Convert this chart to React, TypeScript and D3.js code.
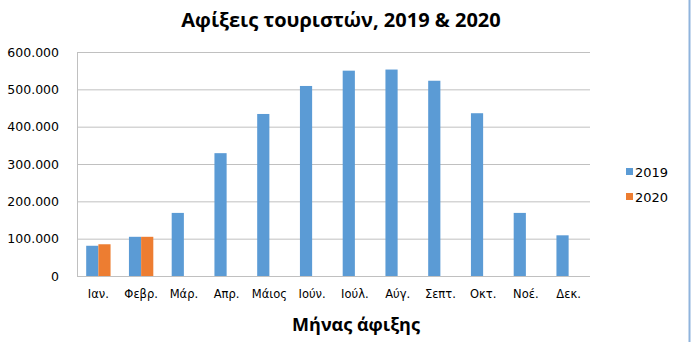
import React from "react";
import * as d3 from "d3";

const months = ["Ιαν.", "Φεβρ.", "Μάρ.", "Απρ.", "Μάιος", "Ιούν.", "Ιούλ.", "Αύγ.", "Σεπτ.", "Οκτ.", "Νοέ.", "Δεκ."];
const arrivals2019 = [81000, 105000, 169000, 329000, 434000, 509000, 550000, 553000, 523000, 436000, 169000, 109000];
const arrivals2020: (number | null)[] = [85000, 105000, null, null, null, null, null, null, null, null, null, null];
const seriesNames = ["2019", "2020"];
const yTicks = [0, 100000, 200000, 300000, 400000, 500000, 600000];

const colors = ["#5b9bd5", "#ed7d31"];
const W = 691;
const H = 342;
const plot = { left: 77, right: 590, top: 52, bottom: 276 };
const font = "'DejaVu Sans', Verdana, sans-serif";
const titleFont = "'Open Sans', 'DejaVu Sans', sans-serif";

const fmt = (v: number) => (v === 0 ? "0" : d3.format(",")(v).replace(/,/g, "."));

export default function App() {
  const x = d3.scaleBand<string>().domain(months).range([plot.left, plot.right]);
  const y = d3.scaleLinear().domain([0, 600000]).range([plot.bottom, plot.top]);
  const barW = x.bandwidth() * 0.285;
  const series = [arrivals2019, arrivals2020];

  return (
    <svg width={W} height={H} style={{ position: "absolute", left: 0, top: 0, background: "#fff" }}>
      <rect x={0} y={0} width={W} height={H} fill="#fff" />
      <line x1={W - 1.5} x2={W - 1.5} y1={0} y2={H} stroke="#8fb4dd" strokeWidth={2} />
      <text x={341} y={27} textAnchor="middle" fontFamily={titleFont} fontWeight="bold" fontSize={20} fill="#000">
        Αφίξεις τουριστών, 2019 &amp; 2020
      </text>
      {yTicks.map((t) => (
        <g key={t}>
          <line x1={plot.left} x2={plot.right} y1={y(t) + 0.5} y2={y(t) + 0.5} stroke="#c0c0c0" strokeWidth={1} />
          <text x={59} y={y(t) + 4.5} textAnchor="end" fontFamily={font} fontSize={12.5} fill="#000">
            {fmt(t)}
          </text>
        </g>
      ))}
      <line x1={plot.left + 0.5} x2={plot.left + 0.5} y1={plot.top} y2={plot.bottom} stroke="#c0c0c0" />
      {months.map((m, i) => {
        const c = (x(m) as number) + x.bandwidth() / 2;
        return (
          <g key={m}>
            {series.map((s, k) => {
              const v = s[i];
              if (v == null) return null;
              const bx = c - barW + k * barW;
              return <rect key={k} x={bx} y={y(v)} width={barW} height={y(0) - y(v)} fill={colors[k]} />;
            })}
            <text x={c} y={298} textAnchor="middle" fontFamily={font} fontSize={11.5} fill="#000">
              {m}
            </text>
          </g>
        );
      })}
      <text x={356} y={331} textAnchor="middle" fontFamily={titleFont} fontWeight="bold" fontSize={18} fill="#000">
        Μήνας άφιξης
      </text>
      {seriesNames.map((n, k) => (
        <g key={n}>
          <rect x={626} y={168 + k * 25} width={7} height={7} fill={colors[k]} />
          <text x={635} y={176.5 + k * 25} fontFamily={font} fontSize={13} fill="#000">
            {n}
          </text>
        </g>
      ))}
    </svg>
  );
}
